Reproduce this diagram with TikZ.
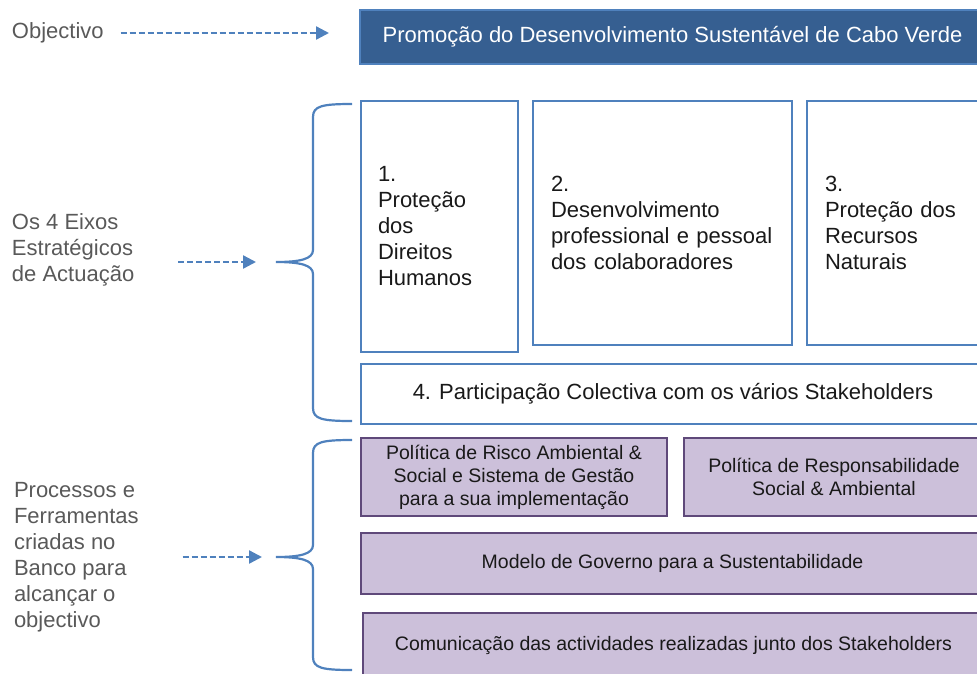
\documentclass[tikz,border=0pt]{standalone}
\usepackage{fontspec}
\setmainfont{Liberation Sans}
\usepackage{xcolor}
\usepackage{tikz}
\usetikzlibrary{positioning,arrows.meta}

\definecolor{eixoblue}{HTML}{4F81BD}
\definecolor{titleblue}{HTML}{365F91}
\definecolor{lilac}{HTML}{CCC0DA}
\definecolor{plum}{HTML}{5F497A}
\definecolor{labelgrey}{HTML}{595959}

\begin{document}
\begin{tikzpicture}[x=1pt,y=-1pt]
        \useasboundingbox (0,0) rectangle (977,673);
        \clip (0,0) rectangle (977,673);

        \tikzstyle{every node}=[font=\fontsize{22}{26}\selectfont,text=black!90,outer sep=0pt]
        \tikzstyle{eixo}=[draw=eixoblue,line width=2pt,inner ysep=0pt,align=left]
        \tikzstyle{ferramenta}=[draw=plum,fill=lilac,line width=2pt,inner sep=0pt,align=center,
            font=\fontsize{19.5}{23}\selectfont]
        \tikzstyle{sidelabel}=[anchor=west,inner sep=0pt,align=left,text=labelgrey]
        \tikzstyle{dasharrow}=[draw=eixoblue,line width=2.4pt,dash pattern=on 6pt off 3pt,
            -{Triangle[length=13pt,width=13pt]}]
        \tikzstyle{brace}=[draw=eixoblue,line width=2.2pt]

        %% Objectivo
        \node [draw=eixoblue,fill=titleblue,line width=1.5pt,anchor=north west,
            minimum width=625pt,minimum height=54pt,text=white] (title) at (360,10)
            {Promoção do Desenvolvimento Sustentável de Cabo Verde};
        \node [sidelabel] (obj) at (12,33) {Objectivo};
        \draw [dasharrow,shorten <=17pt,shorten >=31pt] (obj.east) -- (obj.east -| title.west);

        %% Eixos
        \node [eixo,anchor=north west,inner xsep=17pt,text width=123pt,minimum height=251pt] (e1) at (361,101)
            {1.\\ Proteção\\ dos\\ Direitos\\ Humanos};
        \node [eixo,right=15pt of e1.north east,anchor=north west,inner xsep=18pt,text width=223pt,minimum height=244pt] (e2)
            {2.\\ Desenvolvimento\\ professional e pessoal\\ dos colaboradores};
        \node [eixo,right=15pt of e2.north east,anchor=north west,inner xsep=18pt,text width=142pt,minimum height=244pt] (e3)
            {3.\\ Proteção dos\\ Recursos\\ Naturais};
        \node [eixo,below=12pt of e1.south west,anchor=north west,align=center,minimum width=624pt,minimum height=60pt] (e4)
            {4. Participação Colectiva com os vários Stakeholders};

        %% Processos e ferramentas
        \node [ferramenta,below=14pt of e4.south west,anchor=north west,minimum width=306pt,minimum height=78pt] (p1)
            {Política de Risco Ambiental \&\\ Social e Sistema de Gestão\\ para a sua implementação};
        \node [ferramenta,right=17pt of p1.north east,anchor=north west,minimum width=300pt,minimum height=78pt] (p2)
            {Política de Responsabilidade\\ Social \& Ambiental};
        \node [ferramenta,below=17pt of p1.south west,anchor=north west,minimum width=623pt,minimum height=61pt] (p3)
            {Modelo de Governo para a Sustentabilidade};
        \node [ferramenta,below=19pt of p3.south west,anchor=north west,xshift=2pt,minimum width=621pt,minimum height=64pt] (p4)
            {Comunicação das actividades realizadas junto dos Stakeholders};

        % braces
        \coordinate (tip1) at (276,262);
        \coordinate (tip2) at (276,557);
        \draw [brace] (352,104) .. controls (322,104) and (313,106) .. (313,117) -- (313,250)
            .. controls (313,259) and (300,262) .. (tip1) .. controls (300,262) and (313,265) .. (313,274)
            -- (313,408) .. controls (313,419) and (322,421) .. (352,421);
        \draw [brace] (352,440) .. controls (322,440) and (313,442) .. (313,453) -- (313,545)
            .. controls (313,554) and (300,557) .. (tip2) .. controls (300,557) and (313,560) .. (313,569)
            -- (313,657) .. controls (313,668) and (322,670) .. (352,670);

        %% left side
        \node [sidelabel] (eixos) at (12,250) {Os 4 Eixos\\ Estratégicos\\ de Actuação};
        \node [sidelabel] (proc) at (14,557) {Processos e\\ Ferramentas\\ criadas no\\ Banco para\\ alcançar o\\ objectivo};
        \draw [dasharrow,shorten <=44pt,shorten >=20pt] (eixos.east |- tip1) -- (tip1);
        \draw [dasharrow,shorten <=44pt,shorten >=14pt] (proc.east |- tip2) -- (tip2);

    \end{tikzpicture}
\end{document}
